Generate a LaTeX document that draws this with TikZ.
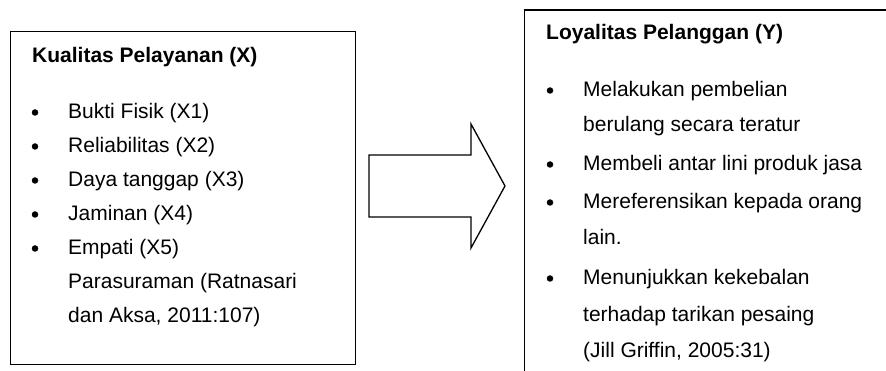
\documentclass[tikz,border=0pt]{standalone}
\usepackage{fontspec}
\setmainfont{Liberation Sans}
\begin{document}
\begin{tikzpicture}[x=1pt,y=-1pt,
  txt/.style={anchor=base west, inner sep=0pt, font=\fontsize{21}{25}\selectfont},
  ttl/.style={anchor=base west, inner sep=0pt, font=\fontsize{21}{25}\selectfont\bfseries},
  frame/.style={draw=black, line width=1.3pt},
  dot/.style={circle, fill=black, inner sep=0pt, minimum size=6.5pt}]
\useasboundingbox (0,0) rectangle (886,371);
\clip (0,0) rectangle (886,371);
% boxes
\node[frame, anchor=north west, minimum width=345pt, minimum height=333pt, inner sep=0pt] (boxX) at (10,31) {};
\node[frame, anchor=north west, minimum width=420pt, minimum height=420pt, inner sep=0pt] (boxY) at (524,9.5) {};
% arrow
\coordinate (a1) at (369,155);
\coordinate (a2) at (471,155);
\coordinate (a3) at (471,124);
\coordinate (tip) at (505,186);
\coordinate (a5) at (471,248);
\coordinate (a6) at (471,217);
\coordinate (a7) at (369,217);
\draw[frame, line join=miter] (a1) -- (a2) -- (a3) -- (tip) -- (a5) -- (a6) -- (a7) -- cycle;
% left texts
\node[ttl] (tX) at (32,63) {Kualitas Pelayanan (X)};
\node[dot] (bx1) at (35,112.5) {};
\node[txt] (x1) at (68,119) {Bukti Fisik (X1)};
\node[dot] (bx2) at (35,146.5) {};
\node[txt] (x2) at (68,153) {Reliabilitas (X2)};
\node[dot] (bx3) at (35,180.5) {};
\node[txt] (x3) at (68,187) {Daya tanggap (X3)};
\node[dot] (bx4) at (35,214.5) {};
\node[txt] (x4) at (68,221) {Jaminan (X4)};
\node[dot] (bx5) at (35,248.5) {};
\node[txt] (x5) at (68,255) {Empati (X5)};
\node[txt] (x6) at (68,289) {Parasuraman (Ratnasari};
\node[txt] (x7) at (68,323) {dan Aksa, 2011:107)};
% right texts
\node[ttl] (tY) at (546,40) {Loyalitas Pelanggan (Y)};
\node[dot] (by1) at (550,90.5) {};
\node[txt] (y1) at (583,97) {Melakukan pembelian};
\node[txt] (y1b) at (583,132) {berulang secara teratur};
\node[dot] (by2) at (550,164.5) {};
\node[txt] (y2) at (583,171) {Membeli antar lini produk jasa};
\node[dot] (by3) at (550,202.5) {};
\node[txt] (y3) at (583,209) {Mereferensikan kepada orang};
\node[txt] (y3b) at (583,245) {lain.};
\node[dot] (by4) at (550,278.5) {};
\node[txt] (y4) at (583,285) {Menunjukkan kekebalan};
\node[txt] (y4b) at (583,321) {terhadap tarikan pesaing};
\node[txt] (y4c) at (583,357) {(Jill Griffin, 2005:31)};
\end{tikzpicture}
\end{document}
